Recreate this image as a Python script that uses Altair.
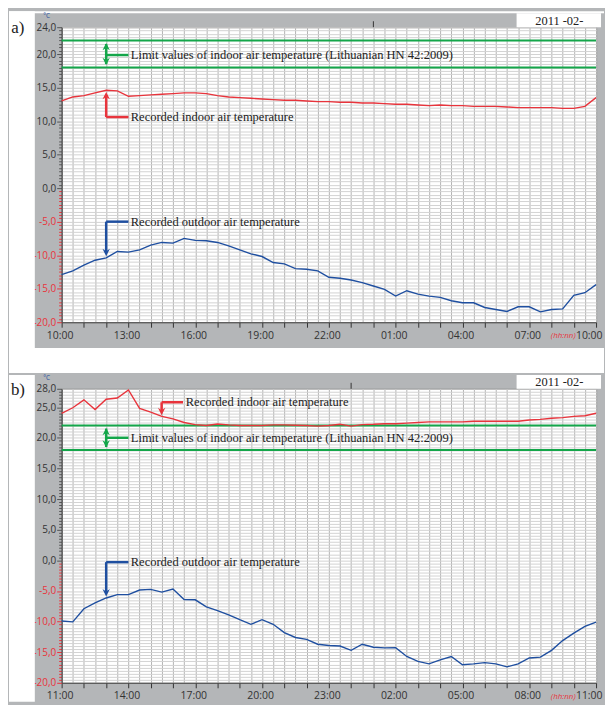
import altair as alt
import pandas as pd

# ---------------- data ----------------
HOURS = [i * 0.5 for i in range(49)]          # half-hour steps over 24 h
A_START, B_START = 10, 11                      # clock hour at the left edge
A_YMAX, B_YMAX = 24, 28
LIMITS = [18, 22]
A_MIDNIGHT, B_MIDNIGHT = 14, 13                # hour offset of 00:00

A_INDOOR = [13.0, 13.6, 13.8, 14.2, 14.6, 14.5, 13.7, 13.8, 13.9, 14.0, 14.1, 14.2, 14.2,
            14.1, 13.8, 13.6, 13.5, 13.4, 13.3, 13.2, 13.1, 13.1, 13.0, 12.9, 12.9, 12.8,
            12.8, 12.7, 12.7, 12.6, 12.5, 12.5, 12.4, 12.3, 12.4, 12.3, 12.3, 12.2, 12.2,
            12.2, 12.1, 12.0, 12.0, 12.0, 12.0, 11.9, 11.9, 12.2, 13.5]
A_OUTDOOR = [-12.9, -12.35, -11.5, -10.75, -10.4, -9.45, -9.55, -9.2, -8.5, -8.1, -8.2, -7.5,
             -7.8, -7.85, -8.1, -8.6, -9.2, -9.8, -10.2, -11.1, -11.3, -12.0, -12.1, -12.35,
             -13.3, -13.45, -13.7, -14.1, -14.6, -15.1, -16.1, -15.3, -15.8, -16.1, -16.3,
             -16.8, -17.1, -17.1, -17.8, -18.1, -18.4, -17.7, -17.7, -18.45, -18.1, -18.0,
             -16.0, -15.6, -14.4]
B_INDOOR = [24.0, 24.9, 26.2, 24.6, 26.3, 26.5, 27.8, 24.8, 24.2, 23.5, 23.1, 22.5, 22.15,
            22.0, 22.25, 22.1, 22.0, 22.0, 22.0, 22.1, 22.1, 22.05, 22.0, 21.9, 22.0, 22.2,
            21.9, 22.15, 22.2, 22.3, 22.3, 22.4, 22.5, 22.6, 22.6, 22.6, 22.6, 22.7, 22.7,
            22.7, 22.7, 22.7, 22.9, 23.0, 23.2, 23.3, 23.5, 23.6, 24.0]
B_OUTDOOR = [-9.9, -10.05, -7.9, -6.95, -6.15, -5.6, -5.6, -4.85, -4.75, -5.2, -4.7, -6.4,
             -6.45, -7.6, -8.2, -8.9, -9.7, -10.45, -9.7, -10.45, -11.8, -12.6, -12.9, -13.7,
             -13.9, -14.0, -14.7, -13.7, -14.2, -14.3, -14.25, -15.7, -16.5, -16.9, -16.25,
             -15.7, -17.05, -16.9, -16.7, -16.9, -17.4, -16.9, -15.95, -15.8, -14.7, -13.1,
             -11.9, -10.8, -10.1]

TXT_LIMIT = "Limit values of indoor air temperature (Lithuanian HN 42:2009)"
TXT_IN = "Recorded indoor air temperature"
TXT_OUT = "Recorded outdoor air temperature"
DATE_TXT = "2011 -02-"

# annotation anchors in data units: (hour0, hour1, temp0, temp1, colour)
A_SEGS = [(2, 2, 18.5, 21.5, "g"), (2, 3, 19.85, 19.85, "g"),
          (2, 2, 10.6, 13.9, "r"), (2, 3, 10.6, 10.6, "r"),
          (2, 3, -5.0, -5.0, "b"), (2, 2, -5.0, -9.6, "b")]
A_HEADS = [(2, 21.1, "up", "g"), (2, 18.9, "down", "g"), (2, 13.8, "up", "r"), (2, -9.6, "down", "b")]
A_TEXTS = [(3.06, 19.85, TXT_LIMIT), (3.06, 10.6, TXT_IN), (3.06, -5.0, TXT_OUT)]

B_SEGS = [(4.49, 5.45, 25.8, 25.8, "r"), (4.49, 4.49, 25.8, 24.3, "r"),
          (2, 2, 18.5, 21.5, "g"), (2, 3, 20.0, 20.0, "g"),
          (2, 3, -0.3, -0.3, "b"), (2, 2, -0.3, -5.3, "b")]
B_HEADS = [(4.49, 24.3, "down", "r"), (2, 21.0, "up", "g"), (2, 19.0, "down", "g"), (2, -5.3, "down", "b")]
B_TEXTS = [(5.53, 25.8, TXT_IN), (3.06, 20.0, TXT_LIMIT), (3.06, -0.3, TXT_OUT)]

# ---------------- style ----------------
RED = "#e8343c"
BLUE = "#1f4fa0"
GREEN = "#14a64a"
FRAME = "#b4b6b8"
COLS = {"r": RED, "b": BLUE, "g": GREEN}
SHAPES = {"up": "M0,-1L1,1L0,0.35L-1,1Z", "down": "M0,1L1,-1L0,-0.35L-1,-1Z"}
SERIF = "Liberation Serif"
SANS = "Open Sans"
W = 538
ONE = pd.DataFrame({"k": [0]})


def panel(tag, start, ymax, indoor, outdoor, midnight, segs, heads, texts, H, top_white, bottom_ext):
    df = pd.DataFrame({"h": HOURS, "indoor": indoor, "outdoor": outdoor})
    xs = alt.Scale(domain=[0, 24], nice=False, zero=False)
    ys = alt.Scale(domain=[-20, ymax], nice=False, zero=False)
    yvals = [-20 + 0.5 * i for i in range(int((ymax + 20) * 2) + 1)]
    hexpr = f"(({start} + datum.value) % 24)"
    last = "datum.value === 24"
    xaxis = alt.Axis(
        values=HOURS, title=None, grid=True, gridColor="#b3b3b3", gridWidth=1,
        tickSize=5, tickColor="#333",
        tickOpacity={"condition": {"test": "datum.value % 1 !== 0", "value": 0}, "value": 1},
        labelExpr=f"datum.value % 3 === 0 ? ({hexpr} < 10 ? '0' : '') + {hexpr} + ':00' : ''",
        labelAlign={"condition": {"test": last, "value": "right"}, "value": "center"},
        labelOffset={"condition": {"test": last, "value": 6}, "value": -2},
        labelFlush=False, labelOverlap=False, labelPadding=3, labelColor="#333",
        labelFont=SANS, labelFontSize=10.5, domainColor="#444")
    major = f"(datum.value % 5 === 0 || datum.value === {ymax})"
    yaxis = alt.Axis(
        values=yvals, title=None, grid=True, gridColor="#d3d3d3", gridWidth=1,
        tickSize={"condition": {"test": major, "value": 5}, "value": 3},
        tickColor={"condition": {"test": "datum.value < 0", "value": RED}, "value": "#555"},
        labelColor={"condition": {"test": "datum.value < 0", "value": RED}, "value": "#333"},
        labelExpr=f"{major} ? (datum.value < 0 ? '-' : '') + abs(datum.value) + ',0' : ''",
        labelOverlap=False, labelPadding=1, labelFont=SANS, labelFontSize=10, domainColor="#444")

    X = lambda f: alt.X(f, scale=xs, axis=xaxis)
    Y = lambda f: alt.Y(f, scale=ys, axis=yaxis)

    def white(x0, x1, y0, y1, col="white"):
        return alt.Chart(ONE).mark_rect(color=col).encode(
            x=alt.value(x0), x2=alt.value(x1), y=alt.value(y0), y2=alt.value(y1))

    layers = []
    # white page areas around the grey frame
    top = -16 if top_white else -14
    layers.append(white(-53, -27, top, H + bottom_ext))
    if top_white:
        layers.append(white(-53, W + 8, -16, -14))
    if bottom_ext > 30:
        layers.append(white(-53, W + 8, H + 26, H + bottom_ext))

    layers.append(alt.Chart(pd.DataFrame({"t": LIMITS})).mark_rule(color=GREEN, strokeWidth=2)
                  .encode(y=Y("t:Q")))
    base = alt.Chart(df)
    layers.append(base.mark_line(color=RED, strokeWidth=1.4).encode(x=X("h:Q"), y=Y("indoor:Q")))
    layers.append(base.mark_line(color=BLUE, strokeWidth=1.4).encode(x=X("h:Q"), y=Y("outdoor:Q")))

    sdf = pd.DataFrame([{"x": a, "x2": b, "y": c, "y2": d, "c": COLS[k]} for a, b, c, d, k in segs])
    layers.append(alt.Chart(sdf).mark_rule(strokeWidth=2.5).encode(
        x=X("x:Q"), x2="x2:Q", y=Y("y:Q"), y2="y2:Q", color=alt.Color("c:N", scale=None)))
    hdf = pd.DataFrame([{"x": a, "y": b, "s": SHAPES[s], "c": COLS[k]} for a, b, s, k in heads])
    layers.append(alt.Chart(hdf).mark_point(filled=True, size=55, opacity=1, strokeWidth=0).encode(
        x=X("x:Q"), y=Y("y:Q"), shape=alt.Shape("s:N", scale=None), color=alt.Color("c:N", scale=None)))
    tdf = pd.DataFrame([{"x": a, "y": b, "t": t} for a, b, t in texts])
    layers.append(alt.Chart(tdf).mark_text(align="left", baseline="middle", font=SERIF, fontSize=12.6,
                                           color="#222", dx=1).encode(x=X("x:Q"), y=Y("y:Q"), text="t:N"))

    # midnight tick above the plot
    layers.append(alt.Chart(pd.DataFrame({"m": [midnight]})).mark_rule(color="#333").encode(
        x=X("m:Q"), y=alt.value(-6), y2=alt.value(0)))
    # date box
    layers.append(white(W - 80, W + 5, -14, 0))
    layers.append(alt.Chart(ONE).mark_text(font=SERIF, fontSize=12.5, color="#222", baseline="middle")
                  .encode(x=alt.value(W - 37), y=alt.value(-6.5), text=alt.value(DATE_TXT)))
    # unit, panel tag, time-format hint
    layers.append(alt.Chart(ONE).mark_text(font=SANS, fontSize=6.5, color=BLUE, baseline="middle")
                  .encode(x=alt.value(-15), y=alt.value(-11), text=alt.value("°C")))
    layers.append(alt.Chart(ONE).mark_text(font=SERIF, fontSize=17, color="#222", baseline="middle")
                  .encode(x=alt.value(-44), y=alt.value(1), text=alt.value(tag)))
    layers.append(alt.Chart(ONE).mark_text(font=SANS, fontSize=8, fontStyle="italic", color=RED,
                                           baseline="middle")
                  .encode(x=alt.value(W - 33), y=alt.value(H + 14), text=alt.value("(hh:nn)")))

    return alt.layer(*layers).properties(width=W, height=H)


pa = panel("a)", A_START, A_YMAX, A_INDOOR, A_OUTDOOR, A_MIDNIGHT, A_SEGS, A_HEADS, A_TEXTS,
           297, True, 51)
pb = panel("b)", B_START, B_YMAX, B_INDOOR, B_OUTDOOR, B_MIDNIGHT, B_SEGS, B_HEADS, B_TEXTS,
           296, False, 19)

chart = (alt.vconcat(pa, pb, spacing=0)
         .configure(background=FRAME, padding=0)
         .configure_view(fill="white", stroke="#555", strokeWidth=1))

chart.save("out.html", embed_options={"renderer": "svg", "actions": False})
